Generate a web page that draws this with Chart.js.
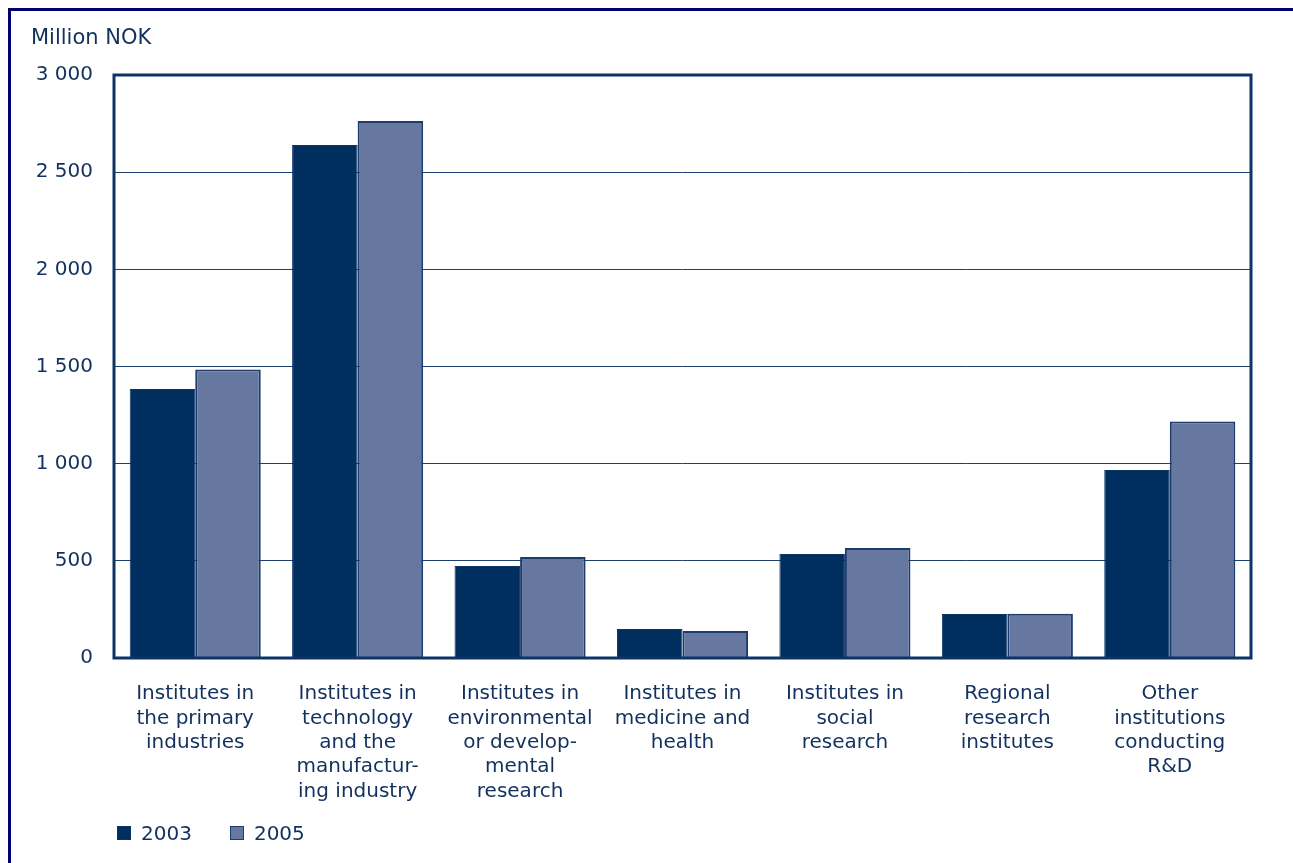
<!DOCTYPE html>
<html>
<head>
<meta charset="utf-8">
<script src="https://cdn.jsdelivr.net/npm/chart.js@4.4.1/dist/chart.umd.min.js"></script>
<style>
  html, body { margin: 0; padding: 0; background: #fff; }
  body { width: 1293px; height: 863px; position: relative; overflow: hidden; font-family: "DejaVu Sans", Verdana, sans-serif; }
  #frame { position: absolute; left: 8px; top: 8px; width: 2000px; height: 2000px; border-top: 3px solid #000070; border-left: 3px solid #000070; }
  #wrap { position: absolute; left: 0; top: 0; width: 1293px; height: 863px; }
  #unit { position: absolute; left: 31px; top: 25px; font-size: 21px; color: #12315e; }
  #legend { position: absolute; left: 117px; top: 821px; font-size: 20px; color: #12315e; display: flex; }
  #legend .item { display: flex; align-items: center; margin-right: 38px; }
  #legend .box { width: 14px; height: 14px; margin-right: 10px; box-sizing: border-box; }
</style>
</head>
<body>
<div id="frame"></div>
<div id="wrap"><canvas id="chart" width="1293" height="863"></canvas></div>
<div id="unit">Million NOK</div>
<div id="legend"></div>
<script>
const categories = [
    ['Institutes in', 'the primary', 'industries'],
    ['Institutes in', 'technology', 'and the', 'manufactur-', 'ing industry'],
    ['Institutes in', 'environmental', 'or develop-', 'mental', 'research'],
    ['Institutes in', 'medicine and', 'health'],
    ['Institutes in', 'social', 'research'],
    ['Regional', 'research', 'institutes'],
    ['Other', 'institutions', 'conducting', 'R&D']
];
const values2003 = [1384, 2640, 473, 149, 535, 226, 967];
const values2005 = [1484, 2763, 520, 139, 566, 228, 1217];
const yTicks = [0, 500, 1000, 1500, 2000, 2500, 3000];

const navy = '#12315e';
const datasets = [
    { label: '2003', data: values2003, backgroundColor: '#002f5f', borderColor: '#0b3366', borderWidth: 1 },
    { label: '2005', data: values2005, backgroundColor: '#6678a0', borderColor: '#1c3c70', borderWidth: 2 }
];

// border round the plot area
const plotBorder = {
    id: 'plotBorder',
    afterDatasetsDraw(chart) {
        const a = chart.chartArea;
        const ctx = chart.ctx;
        ctx.save();
        ctx.strokeStyle = '#0d3467';
        ctx.lineWidth = 3;
        ctx.strokeRect(a.left, a.top, a.right - a.left, a.bottom - a.top);
        ctx.restore();
    }
};

new Chart(document.getElementById('chart'), {
    type: 'bar',
    data: { labels: categories, datasets: datasets },
    options: {
        responsive: false,
        animation: false,
        layout: { padding: { top: 75, right: 42, bottom: 0, left: 0 } },
        plugins: { legend: { display: false }, tooltip: { enabled: false } },
        datasets: { bar: { categoryPercentage: 0.807, barPercentage: 1 } },
        scales: {
            x: {
                afterFit: s => { s.height = 205; },
                grid: { display: false, drawTicks: false },
                border: { display: false },
                ticks: {
                    maxRotation: 0, autoSkip: false, padding: 24,
                    color: navy, font: { family: 'DejaVu Sans', size: 20, lineHeight: 1.215 }
                }
            },
            y: {
                min: 0, max: 3000,
                afterFit: s => { s.width = 114; },
                afterBuildTicks: s => { s.ticks = yTicks.map(v => ({ value: v })); },
                grid: { color: '#1f3f70', lineWidth: 1, drawTicks: false },
                border: { display: false },
                ticks: {
                    padding: 21, color: navy,
                    font: { family: 'DejaVu Sans', size: 20 },
                    callback: v => String(v).replace(/\B(?=(\d{3})+(?!\d))/g, ' ')
                }
            }
        }
    },
    plugins: [plotBorder]
});

// legend
const legend = document.getElementById('legend');
datasets.forEach(ds => {
    const item = document.createElement('div');
    item.className = 'item';
    item.innerHTML = `<span class="box" style="background:${ds.backgroundColor};border:1.5px solid ${ds.borderColor}"></span>${ds.label}`;
    legend.appendChild(item);
});
</script>
</body>
</html>
